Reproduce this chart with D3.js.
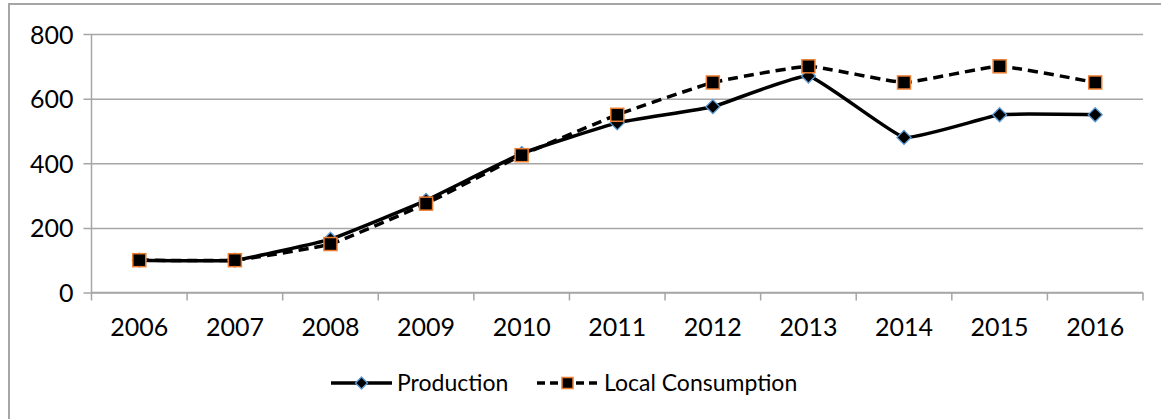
<!DOCTYPE html>
<html>
<head>
<meta charset="utf-8">
<script src="https://cdn.jsdelivr.net/npm/d3@7"></script>
<style>
  body { margin: 0; background: #fff; }
  text { font-family: Lato, "Open Sans", sans-serif; fill: #000; }
</style>
</head>
<body>
<div id="chart"></div>
<script>
"use strict";

var years = ["2006", "2007", "2008", "2009", "2010", "2011", "2012", "2013", "2014", "2015", "2016"];
var production = [100, 100, 165, 285, 430, 525, 575, 670, 480, 550, 550];
var localConsumption = [100, 100, 150, 275, 425, 550, 650, 700, 650, 700, 650];
var yTicks = [0, 200, 400, 600, 800];

var width = 1161, height = 419;
var plot = { left: 91.5, right: 1143, top: 34, bottom: 292.5 };
var gridColor = "#a6a6a6";
var fontSize = 25;
var legendFontSize = 23;

var svg = d3.select("#chart")
    .append("svg")
    .attr("width", width)
    .attr("height", height);

// chart frame (only top and left edges fall inside the picture)
svg.append("rect")
    .attr("x", 9)
    .attr("y", 4)
    .attr("width", 1170)
    .attr("height", 440)
    .attr("fill", "none")
    .attr("stroke", gridColor)
    .attr("stroke-width", 2);

var x = d3.scaleBand()
    .domain(years)
    .range([plot.left, plot.right]);

var y = d3.scaleLinear()
    .domain([0, 800])
    .range([plot.bottom, plot.top]);

// gridlines + y axis
var yAxis = d3.axisLeft(y)
    .tickValues(yTicks)
    .tickSize(-(plot.right - plot.left))
    .tickPadding(18)
    .tickFormat(d3.format("d"));

var gy = svg.append("g")
    .attr("transform", "translate(" + plot.left + ",0)")
    .call(yAxis);
gy.select(".domain").remove();
gy.selectAll(".tick line")
    .attr("x1", -8)
    .attr("stroke", gridColor)
    .attr("stroke-width", 1.5);
gy.selectAll(".tick text")
    .attr("font-size", fontSize)
    .attr("dy", "0.36em");

svg.append("line")
    .attr("x1", plot.left).attr("x2", plot.left)
    .attr("y1", plot.top).attr("y2", plot.bottom)
    .attr("stroke", gridColor)
    .attr("stroke-width", 1.5);

// x axis with ticks between categories
var gx = svg.append("g")
    .attr("transform", "translate(0," + plot.bottom + ")");
gx.append("line")
    .attr("x1", plot.left).attr("x2", plot.right)
    .attr("stroke", gridColor)
    .attr("stroke-width", 1.5);
var bounds = years.map(function (d) { return x(d); }).concat([plot.right]);
gx.selectAll("line.tick")
    .data(bounds)
    .enter().append("line")
    .attr("class", "tick")
    .attr("x1", function (d) { return d; })
    .attr("x2", function (d) { return d; })
    .attr("y1", 0)
    .attr("y2", 8)
    .attr("stroke", gridColor)
    .attr("stroke-width", 1.5);
gx.selectAll("text")
    .data(years)
    .enter().append("text")
    .attr("x", function (d) { return x(d) + x.bandwidth() / 2; })
    .attr("y", 43)
    .attr("text-anchor", "middle")
    .attr("font-size", fontSize)
    .text(function (d) { return d; });

var cx = function (d, i) { return x(years[i]) + x.bandwidth() / 2; };

var line = d3.line()
    .x(cx)
    .y(function (d) { return y(d); })
    .curve(d3.curveCardinal.tension(0.65));

svg.append("path")
    .datum(localConsumption)
    .attr("d", line)
    .attr("fill", "none")
    .attr("stroke", "#000")
    .attr("stroke-width", 3.5)
    .attr("stroke-dasharray", "10,6");

svg.append("path")
    .datum(production)
    .attr("d", line)
    .attr("fill", "none")
    .attr("stroke", "#000")
    .attr("stroke-width", 3.5);

var diamond = function (g, px, py, r) {
    g.append("path")
        .attr("d", "M" + px + "," + (py - r) + "L" + (px + r) + "," + py +
                   "L" + px + "," + (py + r) + "L" + (px - r) + "," + py + "Z")
        .attr("fill", "#000")
        .attr("stroke", "#5b9bd5")
        .attr("stroke-width", 1.3);
};
var square = function (g, px, py, s) {
    g.append("rect")
        .attr("x", px - s / 2)
        .attr("y", py - s / 2)
        .attr("width", s)
        .attr("height", s)
        .attr("fill", "#000")
        .attr("stroke", "#ed7d31")
        .attr("stroke-width", 1.5);
};

var markers = svg.append("g");
production.forEach(function (d, i) { diamond(markers, cx(d, i), y(d), 7); });
localConsumption.forEach(function (d, i) { square(markers, cx(d, i), y(d), 13); });

// legend
var legend = svg.append("g");
var ly = 383;
legend.append("line")
    .attr("x1", 331).attr("x2", 392).attr("y1", ly).attr("y2", ly)
    .attr("stroke", "#000").attr("stroke-width", 3.5);
diamond(legend, 361.5, ly, 6);
legend.append("text")
    .attr("x", 397).attr("y", ly).attr("dy", "0.36em")
    .attr("font-size", legendFontSize)
    .text("Production");

legend.append("line")
    .attr("x1", 537).attr("x2", 598).attr("y1", ly).attr("y2", ly)
    .attr("stroke", "#000").attr("stroke-width", 3.5)
    .attr("stroke-dasharray", "8,5");
square(legend, 567.5, ly, 11);
legend.append("text")
    .attr("x", 604).attr("y", ly).attr("dy", "0.36em")
    .attr("font-size", legendFontSize)
    .text("Local Consumption");
</script>
</body>
</html>
